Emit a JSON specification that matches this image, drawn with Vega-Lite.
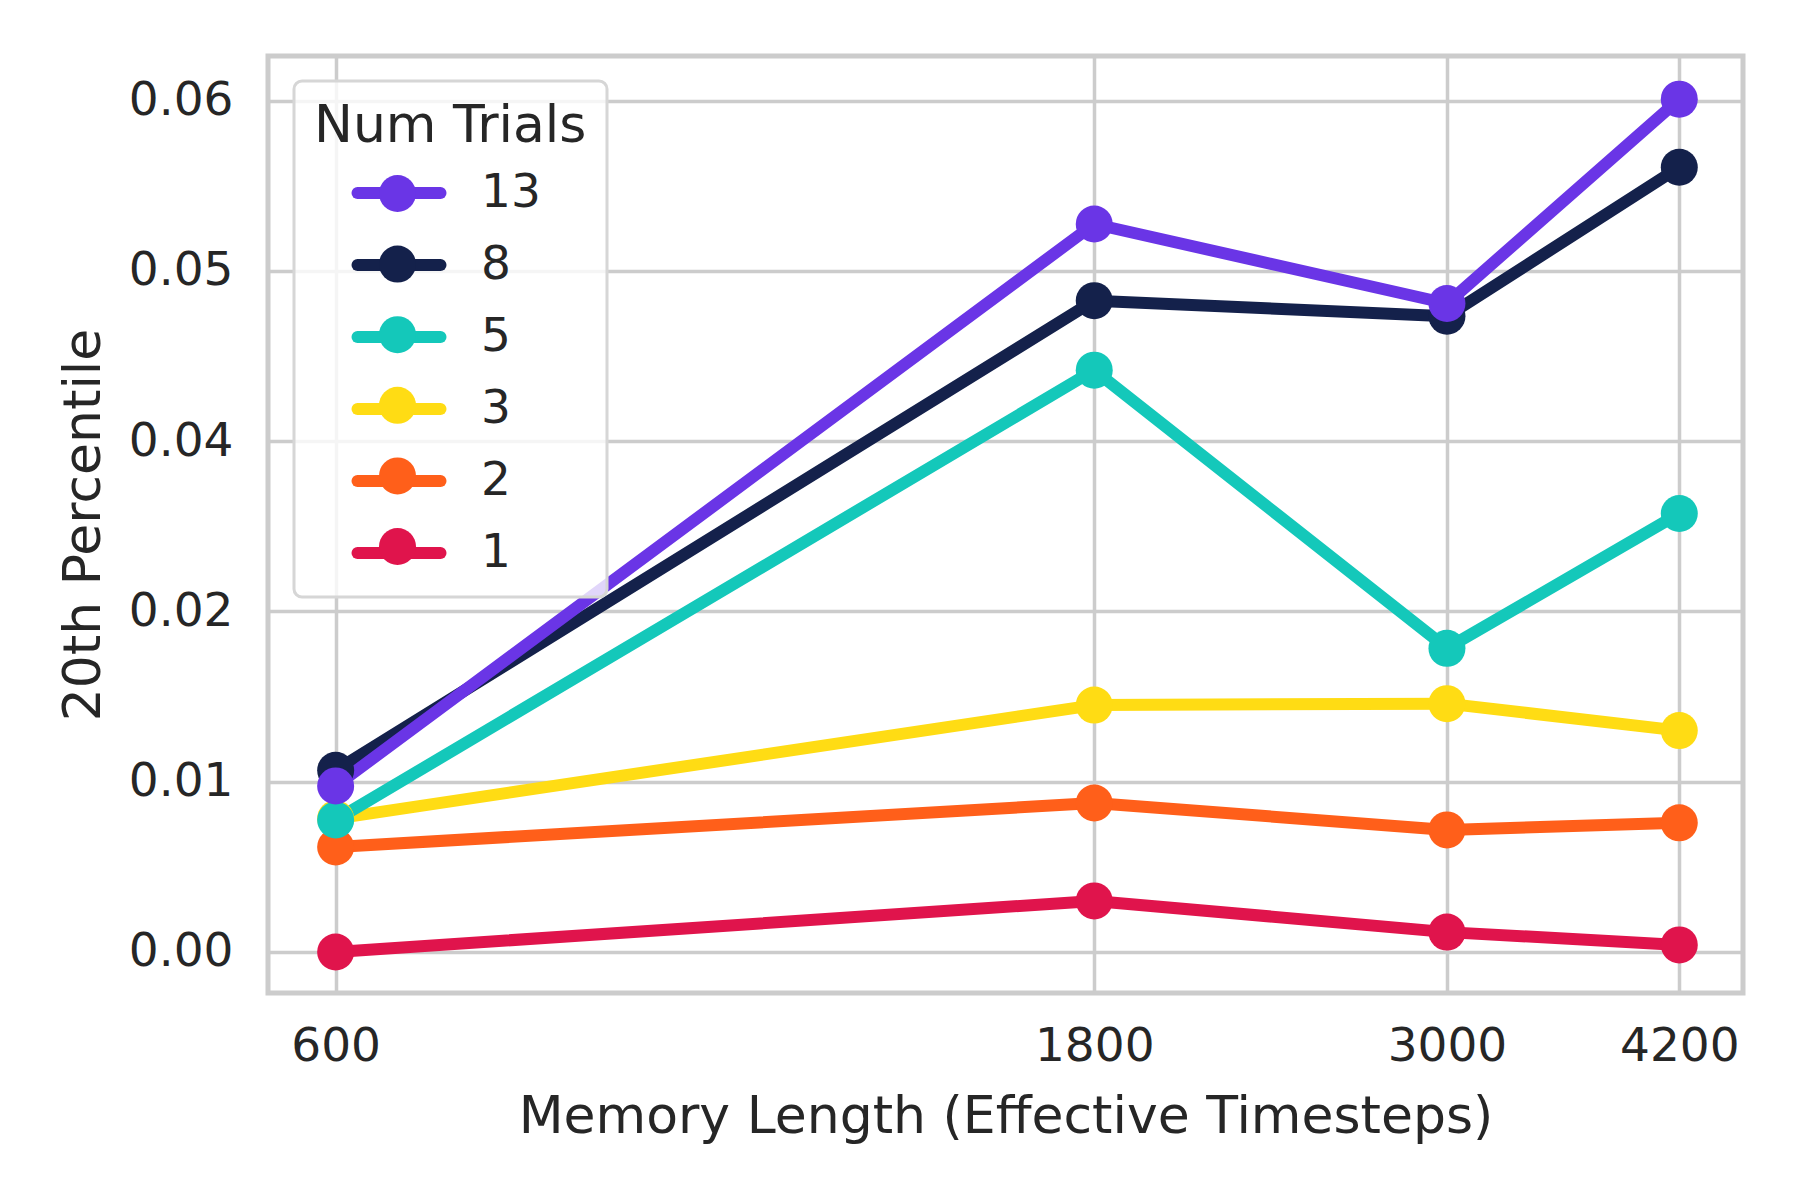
{
  "$schema": "https://vega.github.io/schema/vega-lite/v6.json",
  "width": 1475,
  "height": 937,
  "autosize": {"type": "none"},
  "padding": {"left": 268, "top": 56, "right": 57, "bottom": 207},
  "background": "white",
  "config": {
    "font": "DejaVu Sans",
    "view": {"stroke": "#cccccc", "strokeWidth": 5},
    "axis": {
      "domain": false,
      "ticks": false,
      "grid": true,
      "gridColor": "#cccccc",
      "gridWidth": 3.5,
      "labelColor": "#262626",
      "titleColor": "#262626",
      "labelFontSize": 47,
      "titleFontSize": 52,
      "titleFontWeight": "normal"
    }
  },
  "data": {
    "values": [
      {"trials": "1", "memory": 600, "p20": 0.0000},
      {"trials": "1", "memory": 1800, "p20": 0.0036},
      {"trials": "1", "memory": 3000, "p20": 0.0014},
      {"trials": "1", "memory": 4200, "p20": 0.0005},
      {"trials": "2", "memory": 600, "p20": 0.0074},
      {"trials": "2", "memory": 1800, "p20": 0.0105},
      {"trials": "2", "memory": 3000, "p20": 0.0086},
      {"trials": "2", "memory": 4200, "p20": 0.0091},
      {"trials": "3", "memory": 600, "p20": 0.0094},
      {"trials": "3", "memory": 1800, "p20": 0.0174},
      {"trials": "3", "memory": 3000, "p20": 0.0175},
      {"trials": "3", "memory": 4200, "p20": 0.0156},
      {"trials": "5", "memory": 600, "p20": 0.0093},
      {"trials": "5", "memory": 1800, "p20": 0.0410},
      {"trials": "5", "memory": 3000, "p20": 0.0214},
      {"trials": "5", "memory": 4200, "p20": 0.0309},
      {"trials": "8", "memory": 600, "p20": 0.0128},
      {"trials": "8", "memory": 1800, "p20": 0.0459},
      {"trials": "8", "memory": 3000, "p20": 0.0448},
      {"trials": "8", "memory": 4200, "p20": 0.0553},
      {"trials": "13", "memory": 600, "p20": 0.0117},
      {"trials": "13", "memory": 1800, "p20": 0.0513},
      {"trials": "13", "memory": 3000, "p20": 0.0457},
      {"trials": "13", "memory": 4200, "p20": 0.0601}
    ]
  },
  "encoding": {
    "x": {
      "field": "memory",
      "type": "quantitative",
      "scale": {"type": "log", "domain": [544, 4606], "nice": false},
      "axis": {
        "title": "Memory Length (Effective Timesteps)",
        "values": [600, 1800, 3000, 4200],
        "format": "d",
        "labelPadding": 30,
        "titlePadding": 22
      }
    },
    "y": {
      "field": "p20",
      "type": "quantitative",
      "scale": {"domain": [-0.00289, 0.06314], "nice": false, "zero": false},
      "axis": {
        "title": "20th Percentile",
        "values": [0, 0.012, 0.024, 0.036, 0.048, 0.06],
        "labelExpr": "format(datum.value, '.2f')",
        "labelPadding": 35,
        "titlePadding": 18
      }
    }
  },
  "layer": [
    {
      "mark": {"type": "line", "strokeWidth": 12, "strokeJoin": "round", "strokeCap": "round"},
      "encoding": {
        "color": {
          "field": "trials",
          "type": "nominal",
          "scale": {
            "domain": ["13", "8", "5", "3", "2", "1"],
            "range": ["#6A35E6", "#14214B", "#14C8BA", "#FFDC14", "#FF5F1A", "#E0144C"]
          },
          "legend": {
            "title": "Num Trials",
            "titleLimit": 500,
            "orient": "none",
            "legendX": 26,
            "legendY": 25,
            "symbolType": "stroke",
            "symbolSize": 6889,
            "symbolStrokeWidth": 12,
            "symbolOffset": 37.5,
            "labelOffset": 34.5,
            "padding": 20,
            "titlePadding": -7.5,
            "rowPadding": 0,
            "labelFontSize": 47,
            "titleFontSize": 52,
            "titleFontWeight": "normal",
            "labelColor": "#262626",
            "titleColor": "#262626",
            "fillColor": "rgba(255,255,255,0.8)",
            "strokeColor": "#d6d6d6",
            "cornerRadius": 8,
            "encode": {
              "legend": {"update": {"strokeWidth": {"value": 3}}},
              "symbols": {"update": {"strokeCap": {"value": "round"}}}
            }
          }
        }
      }
    },
    {
      "mark": {"type": "point", "filled": true, "size": 1369, "opacity": 1},
      "encoding": {
        "fill": {
          "field": "trials",
          "type": "nominal",
          "scale": {
            "domain": ["13", "8", "5", "3", "2", "1", "none"],
            "range": ["#6A35E6", "#14214B", "#14C8BA", "#FFDC14", "#FF5F1A", "#E0144C", "transparent"]
          },
          "legend": {
            "title": "Num Trials",
            "titleLimit": 500,
            "values": ["13", "8", "5", "3", "2", "1"],
            "orient": "none",
            "legendX": 26,
            "legendY": 25,
            "symbolType": "circle",
            "symbolSize": 1369,
            "symbolStrokeWidth": 0,
            "symbolOpacity": 1,
            "symbolOffset": 60,
            "labelOffset": 32,
            "padding": 20,
            "titlePadding": 17,
            "rowPadding": 22.6,
            "labelFontSize": 47,
            "titleFontSize": 52,
            "titleFontWeight": "normal",
            "labelOpacity": 0,
            "titleOpacity": 0
          }
        }
      }
    }
  ]
}
